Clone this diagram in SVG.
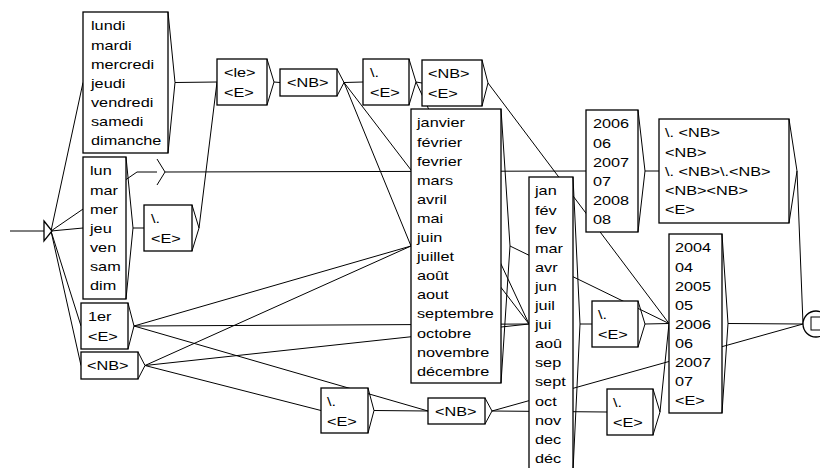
<svg xmlns="http://www.w3.org/2000/svg" width="820" height="468" viewBox="0 0 820 468">
  <style>
    .e { stroke: #000; stroke-width: 1; fill: none; }
    .b { fill: #fff; stroke: #000; stroke-width: 1.3; }
    .c { fill: none; stroke: #000; stroke-width: 1; }
    .t { font-family: "Liberation Sans", Arial, sans-serif; font-size: 13px; fill: #000; }
  </style>
  <rect width="820" height="468" fill="#fff"/>

  <!-- transitions: drawn first so the white boxes sit on top -->
  <g id="connectors">
    <line class="e" x1="10" y1="231" x2="44" y2="231"/>
    <line class="e" x1="51" y1="231" x2="83" y2="82.5"/>
    <line class="e" x1="51" y1="231" x2="83" y2="228"/>
    <line class="e" x1="51" y1="231" x2="137" y2="172"/>
    <line class="e" x1="51" y1="231" x2="81" y2="326"/>
    <line class="e" x1="51" y1="231" x2="81" y2="365.5"/>
    <line class="e" x1="175" y1="82.5" x2="217" y2="82"/>
    <line class="e" x1="133" y1="228" x2="144" y2="228"/>
    <line class="e" x1="199" y1="228" x2="217" y2="82"/>
    <line class="e" x1="274" y1="82" x2="280" y2="82.5"/>
    <line class="e" x1="344" y1="82.5" x2="363" y2="82"/>
    <line class="e" x1="344" y1="82.5" x2="411" y2="246"/>
    <line class="e" x1="344" y1="82.5" x2="529" y2="324"/>
    <line class="e" x1="416" y1="82" x2="422" y2="83"/>
    <line class="e" x1="416" y1="82" x2="529" y2="324"/>
    <line class="e" x1="488" y1="83" x2="669" y2="323.5"/>
    <line class="e" x1="165" y1="172" x2="586" y2="171"/>
    <line class="e" x1="134" y1="326" x2="411" y2="246"/>
    <line class="e" x1="134" y1="326" x2="529" y2="324"/>
    <line class="e" x1="134" y1="326" x2="428" y2="411"/>
    <line class="e" x1="145" y1="365.5" x2="411" y2="246"/>
    <line class="e" x1="145" y1="365.5" x2="529" y2="324"/>
    <line class="e" x1="145" y1="365.5" x2="321" y2="410.5"/>
    <line class="e" x1="374" y1="410.5" x2="428" y2="411"/>
    <line class="e" x1="510" y1="246" x2="669" y2="323.5"/>
    <line class="e" x1="580" y1="324" x2="592" y2="324"/>
    <line class="e" x1="645" y1="324" x2="669" y2="323.5"/>
    <line class="e" x1="492" y1="411" x2="607" y2="412"/>
    <line class="e" x1="492" y1="411" x2="803" y2="324"/>
    <line class="e" x1="660" y1="412" x2="669" y2="323.5"/>
    <line class="e" x1="645" y1="171" x2="659" y2="171"/>
    <line class="e" x1="797" y1="171" x2="803" y2="324"/>
    <line class="e" x1="728" y1="323.5" x2="803" y2="324"/>
  </g>

  <!-- initial state -->
  <g id="n_init">
    <polygon class="b" points="44,221 52,231 44,241"/>
  </g>

  <g id="n_jours">
    <rect class="b" x="83" y="12" width="85" height="141"/>
    <path class="c" d="M168,12 L175,82.5 L168,153"/>
    <text class="t" transform="translate(91,0) scale(1.25,1)">
      <tspan x="0" y="30.5">lundi</tspan><tspan x="0" y="49.6">mardi</tspan><tspan x="0" y="68.7">mercredi</tspan><tspan x="0" y="87.8">jeudi</tspan><tspan x="0" y="106.9">vendredi</tspan><tspan x="0" y="126">samedi</tspan><tspan x="0" y="145.1">dimanche</tspan>
    </text>
  </g>

  <g id="n_jours_abr">
    <rect class="b" x="83" y="157" width="43" height="142"/>
    <path class="c" d="M126,157 L133,228 L126,299"/>
    <text class="t" transform="translate(90,0) scale(1.25,1)">
      <tspan x="0" y="175.5">lun</tspan><tspan x="0" y="194.6">mar</tspan><tspan x="0" y="213.7">mer</tspan><tspan x="0" y="232.8">jeu</tspan><tspan x="0" y="251.9">ven</tspan><tspan x="0" y="271">sam</tspan><tspan x="0" y="290.1">dim</tspan>
    </text>
  </g>

  <g id="n_premier">
    <rect class="b" x="81" y="303" width="47" height="46"/>
    <path class="c" d="M128,303 L134,326 L128,349"/>
    <text class="t" transform="translate(88,0) scale(1.25,1)">
      <tspan x="0" y="321.5">1er</tspan><tspan x="0" y="340.6">&lt;E&gt;</tspan>
    </text>
  </g>

  <g id="n_nb_jour">
    <rect class="b" x="81" y="352" width="57" height="27"/>
    <path class="c" d="M138,352 L145,365.5 L138,379"/>
    <text class="t" transform="translate(87,0) scale(1.25,1)"><tspan x="0" y="370.5">&lt;NB&gt;</tspan></text>
  </g>

  <g id="n_point_abr">
    <rect class="b" x="144" y="205" width="48" height="46"/>
    <path class="c" d="M192,205 L199,228 L192,251"/>
    <text class="t" transform="translate(151,0) scale(1.25,1)">
      <tspan x="0" y="223.5">\.</tspan><tspan x="0" y="242.6">&lt;E&gt;</tspan>
    </text>
  </g>

  <!-- empty-word box -->
  <g id="n_vide">
    <line class="c" x1="137" y1="172" x2="157" y2="172"/>
    <path class="c" d="M157,159 L165,172 L157,185"/>
  </g>

  <g id="n_le">
    <rect class="b" x="217" y="59" width="50" height="46"/>
    <path class="c" d="M267,59 L274,82 L267,105"/>
    <text class="t" transform="translate(224,0) scale(1.25,1)">
      <tspan x="0" y="77.5">&lt;le&gt;</tspan><tspan x="0" y="96.6">&lt;E&gt;</tspan>
    </text>
  </g>

  <g id="n_nb_date">
    <rect class="b" x="280" y="69" width="57" height="27"/>
    <path class="c" d="M337,69 L344,82.5 L337,96"/>
    <text class="t" transform="translate(287,0) scale(1.25,1)"><tspan x="0" y="87.5">&lt;NB&gt;</tspan></text>
  </g>

  <g id="n_point1">
    <rect class="b" x="363" y="59" width="46" height="46"/>
    <path class="c" d="M409,59 L416,82 L409,105"/>
    <text class="t" transform="translate(370,0) scale(1.25,1)">
      <tspan x="0" y="77.5">\.</tspan><tspan x="0" y="96.6">&lt;E&gt;</tspan>
    </text>
  </g>

  <g id="n_nb_mois">
    <rect class="b" x="422" y="60" width="60" height="46"/>
    <path class="c" d="M482,60 L488,83 L482,106"/>
    <text class="t" transform="translate(428,0) scale(1.25,1)">
      <tspan x="0" y="78.5">&lt;NB&gt;</tspan><tspan x="0" y="97.6">&lt;E&gt;</tspan>
    </text>
  </g>

  <g id="n_mois">
    <rect class="b" x="411" y="109" width="90" height="274"/>
    <path class="c" d="M501,109 L510,246 L501,383"/>
    <text class="t" transform="translate(417,0) scale(1.25,1)">
      <tspan x="0" y="127.5">janvier</tspan><tspan x="0" y="146.6">février</tspan><tspan x="0" y="165.7">fevrier</tspan><tspan x="0" y="184.8">mars</tspan><tspan x="0" y="203.9">avril</tspan><tspan x="0" y="223">mai</tspan><tspan x="0" y="242.1">juin</tspan><tspan x="0" y="261.2">juillet</tspan><tspan x="0" y="280.3">août</tspan><tspan x="0" y="299.4">aout</tspan><tspan x="0" y="318.5">septembre</tspan><tspan x="0" y="337.6">octobre</tspan><tspan x="0" y="356.7">novembre</tspan><tspan x="0" y="375.8">décembre</tspan>
    </text>
  </g>

  <g id="n_mois_abr">
    <rect class="b" x="529" y="177" width="44" height="294"/>
    <path class="c" d="M573,177 L580,324 L573,471"/>
    <text class="t" transform="translate(535,0) scale(1.25,1)">
      <tspan x="0" y="195.5">jan</tspan><tspan x="0" y="214.6">fév</tspan><tspan x="0" y="233.7">fev</tspan><tspan x="0" y="252.8">mar</tspan><tspan x="0" y="271.9">avr</tspan><tspan x="0" y="291">jun</tspan><tspan x="0" y="310.1">juil</tspan><tspan x="0" y="329.2">jui</tspan><tspan x="0" y="348.3">aoû</tspan><tspan x="0" y="367.4">sep</tspan><tspan x="0" y="386.5">sept</tspan><tspan x="0" y="405.6">oct</tspan><tspan x="0" y="424.7">nov</tspan><tspan x="0" y="443.8">dec</tspan><tspan x="0" y="462.9">déc</tspan>
    </text>
  </g>

  <g id="n_annee_a">
    <rect class="b" x="586" y="110" width="52" height="122"/>
    <path class="c" d="M638,110 L645,171 L638,232"/>
    <text class="t" transform="translate(593,0) scale(1.25,1)">
      <tspan x="0" y="128.5">2006</tspan><tspan x="0" y="147.6">06</tspan><tspan x="0" y="166.7">2007</tspan><tspan x="0" y="185.8">07</tspan><tspan x="0" y="204.9">2008</tspan><tspan x="0" y="224">08</tspan>
    </text>
  </g>

  <g id="n_suite_nb">
    <rect class="b" x="659" y="119" width="130" height="104"/>
    <path class="c" d="M789,119 L797,171 L789,223"/>
    <text class="t" transform="translate(665,0) scale(1.25,1)">
      <tspan x="0" y="137.5">\. &lt;NB&gt;</tspan><tspan x="0" y="156.6">&lt;NB&gt;</tspan><tspan x="0" y="175.7">\. &lt;NB&gt;\.&lt;NB&gt;</tspan><tspan x="0" y="194.8">&lt;NB&gt;&lt;NB&gt;</tspan><tspan x="0" y="213.9">&lt;E&gt;</tspan>
    </text>
  </g>

  <g id="n_annee_b">
    <rect class="b" x="669" y="234" width="53" height="179"/>
    <path class="c" d="M722,234 L728,323.5 L722,413"/>
    <text class="t" transform="translate(675,0) scale(1.25,1)">
      <tspan x="0" y="252.5">2004</tspan><tspan x="0" y="271.6">04</tspan><tspan x="0" y="290.7">2005</tspan><tspan x="0" y="309.8">05</tspan><tspan x="0" y="328.9">2006</tspan><tspan x="0" y="348">06</tspan><tspan x="0" y="367.1">2007</tspan><tspan x="0" y="386.2">07</tspan><tspan x="0" y="405.3">&lt;E&gt;</tspan>
    </text>
  </g>

  <g id="n_point2">
    <rect class="b" x="592" y="301" width="46" height="46"/>
    <path class="c" d="M638,301 L645,324 L638,347"/>
    <text class="t" transform="translate(598,0) scale(1.25,1)">
      <tspan x="0" y="319.5">\.</tspan><tspan x="0" y="338.6">&lt;E&gt;</tspan>
    </text>
  </g>

  <g id="n_point3">
    <rect class="b" x="607" y="389" width="46" height="46"/>
    <path class="c" d="M653,389 L660,412 L653,435"/>
    <text class="t" transform="translate(613,0) scale(1.25,1)">
      <tspan x="0" y="407.5">\.</tspan><tspan x="0" y="426.6">&lt;E&gt;</tspan>
    </text>
  </g>

  <g id="n_point4">
    <rect class="b" x="321" y="388" width="47" height="45"/>
    <path class="c" d="M368,388 L374,410.5 L368,433"/>
    <text class="t" transform="translate(327,0) scale(1.25,1)">
      <tspan x="0" y="406.5">\.</tspan><tspan x="0" y="425.6">&lt;E&gt;</tspan>
    </text>
  </g>

  <g id="n_nb_bas">
    <rect class="b" x="428" y="398" width="57" height="26"/>
    <path class="c" d="M485,398 L492,411 L485,424"/>
    <text class="t" transform="translate(435,0) scale(1.25,1)"><tspan x="0" y="416.5">&lt;NB&gt;</tspan></text>
  </g>

  <!-- final state -->
  <g id="n_final">
    <circle class="b" cx="816" cy="324" r="13"/>
    <rect class="c" x="811" y="317" width="13" height="13"/>
  </g>
</svg>
